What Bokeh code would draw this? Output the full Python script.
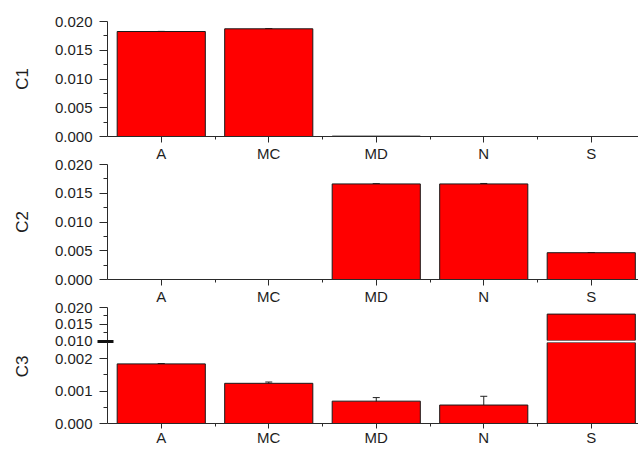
import math
from bokeh.plotting import figure
from bokeh.models import (Range1d, FixedTicker, NumeralTickFormatter, Whisker,
                          ColumnDataSource, TeeHead)
from bokeh.layouts import column
from bokeh.embed import file_html
from bokeh.resources import INLINE

# ---------------- data ----------------
categories = ["A", "MC", "MD", "N", "S"]
c1_values = [0.01826, 0.01873, 0.00006, 0.0, 0.0]
c1_errors = [0.00002, 0.00004, 0.0, 0.0, 0.0]
c2_values = [0.0, 0.0, 0.01662, 0.01662, 0.00466]
c2_errors = [0.0, 0.0, 0.00004, 0.00008, 0.00003]
c3_values = [0.00184, 0.00124, 0.00069, 0.00057, 0.0180]
c3_errors = [0.00001, 0.00004, 0.00011, 0.00027, 0.0]

y_ticks_main = [0.000, 0.005, 0.010, 0.015, 0.020]
y_minor_main = [0.0025, 0.0075, 0.0125, 0.0175]
y_ticks_c3_upper = [0.010, 0.015, 0.020]
y_minor_c3_upper = [0.0125, 0.0175]
y_ticks_c3_lower = [0.000, 0.001, 0.002]
y_minor_c3_lower = [0.0005, 0.0015]

# ---------------- style ----------------
FONT = "Liberation Sans"
AXIS_COLOR = "#2a2a2a"
TEXT_COLOR = "#1e1e1e"
BAR_COLOR = "#ff0000"
WIDTH = 638
LEFT = 107
PX_PER_CAT = 107.5

xs = list(range(1, len(categories) + 1))
x_end = 0.5 + (WIDTH - LEFT) / PX_PER_CAT


def make_fig(height, y0, y1, yticks, yminor, top, bottom, values, errors,
             show_x=True, ylabel=None, xstandoff=2, xtick=6):
    p = figure(width=WIDTH, height=height, output_backend="svg",
               toolbar_location=None, x_range=Range1d(0.5, x_end),
               y_range=Range1d(y0, y1),
               x_axis_location="below" if show_x else None,
               min_border_left=LEFT, min_border_right=0,
               min_border_top=top, min_border_bottom=bottom)
    p.outline_line_color = None
    p.border_fill_color = None
    p.background_fill_color = None
    p.xgrid.visible = False
    p.ygrid.visible = False

    bx = [x for x, v in zip(xs, values) if v > y0]
    bv = [v for v in values if v > y0]
    p.vbar(x=bx, top=bv, bottom=0, width=0.82, fill_color=BAR_COLOR,
           line_color="#1a1a1a", line_width=1)

    ex = [x for x, v, e in zip(xs, values, errors) if e > 0 and v > y0]
    ev = [v for v, e in zip(values, errors) if e > 0 and v > y0]
    ee = [e for v, e in zip(values, errors) if e > 0 and v > y0]
    src = ColumnDataSource(dict(x=ex, upper=[v + e for v, e in zip(ev, ee)],
                                lower=[v - e for v, e in zip(ev, ee)]))
    p.add_layout(Whisker(base="x", upper="upper", lower="lower", source=src,
                         line_color="#222222", line_width=1,
                         upper_head=TeeHead(size=7, line_color="#222222", line_width=1),
                         lower_head=TeeHead(size=7, line_color="#222222", line_width=1)))

    ya = p.yaxis[0]
    ya.ticker = FixedTicker(ticks=yticks, minor_ticks=yminor)
    ya.formatter = NumeralTickFormatter(format="0.000")
    ya.axis_line_color = AXIS_COLOR
    ya.major_tick_line_color = AXIS_COLOR
    ya.minor_tick_line_color = AXIS_COLOR
    ya.major_tick_in = 0
    ya.major_tick_out = 8
    ya.minor_tick_in = 0
    ya.minor_tick_out = 4
    ya.major_label_standoff = 7
    ya.major_label_text_font = FONT
    ya.major_label_text_font_size = "15px"
    ya.major_label_text_color = TEXT_COLOR
    if ylabel:
        ya.axis_label = ylabel
        ya.axis_label_text_font = FONT
        ya.axis_label_text_font_size = "17px"
        ya.axis_label_text_font_style = "normal"
        ya.axis_label_text_color = TEXT_COLOR
        ya.axis_label_standoff = 20

    if show_x:
        xa = p.xaxis[0]
        xa.ticker = FixedTicker(ticks=xs, minor_ticks=[x + 0.5 for x in xs])
        xa.major_label_overrides = {x: c for x, c in zip(xs, categories)}
        xa.axis_line_color = AXIS_COLOR
        xa.major_tick_line_color = AXIS_COLOR
        xa.minor_tick_line_color = AXIS_COLOR
        xa.major_tick_in = 0
        xa.major_tick_out = xtick
        xa.minor_tick_in = 0
        xa.minor_tick_out = 3
        xa.major_label_standoff = xstandoff
        xa.major_label_text_font = FONT
        xa.major_label_text_font_size = "15px"
        xa.major_label_text_color = TEXT_COLOR
    return p


p1 = make_fig(166, 0, 0.020, y_ticks_main, y_minor_main, 21, 30,
              c1_values, c1_errors, ylabel="C1")
p2 = make_fig(153, 0, 0.020, y_ticks_main, y_minor_main, 8, 30,
              c2_values, c2_errors, ylabel="C2")
p2.margin = (-10, 0, 0, 0)

p3u = make_fig(50, 0.010, 0.020, y_ticks_c3_upper, y_minor_c3_upper, 8, 9,
               c3_values, c3_errors, show_x=False)
p3u.margin = (-10, 0, 0, 0)

# transparent overlay strip: its y-axis draws only the axis-break mark
brk = figure(width=WIDTH, height=20, output_backend="svg", toolbar_location=None,
             x_range=Range1d(0, 1), y_range=Range1d(0, 1),
             x_axis_location=None,
             min_border_left=LEFT, min_border_right=0,
             min_border_top=0, min_border_bottom=0)
brk.outline_line_color = None
brk.border_fill_color = None
brk.background_fill_color = None
brk.xgrid.visible = False
brk.ygrid.visible = False
bya = brk.yaxis[0]
bya.ticker = FixedTicker(ticks=[0.5], minor_ticks=[])
bya.major_label_overrides = {0.5: ""}
bya.axis_line_color = None
bya.major_tick_line_color = "#111111"
bya.major_tick_line_width = 3
bya.major_tick_out = 10
bya.major_tick_in = 6
bya.major_label_standoff = 0
brk.margin = (-18, 0, 0, 0)

p3l = make_fig(107, 0.0, 0.0025, y_ticks_c3_lower, y_minor_c3_lower, 0, 26,
               c3_values, c3_errors, ylabel="\u00a0" * 7 + "C3",
               xstandoff=0, xtick=5)
p3l.margin = (-9, 0, 0, 0)

layout = column(p1, p2, p3u, brk, p3l)
open("out.html", "w").write(file_html(layout, INLINE))
